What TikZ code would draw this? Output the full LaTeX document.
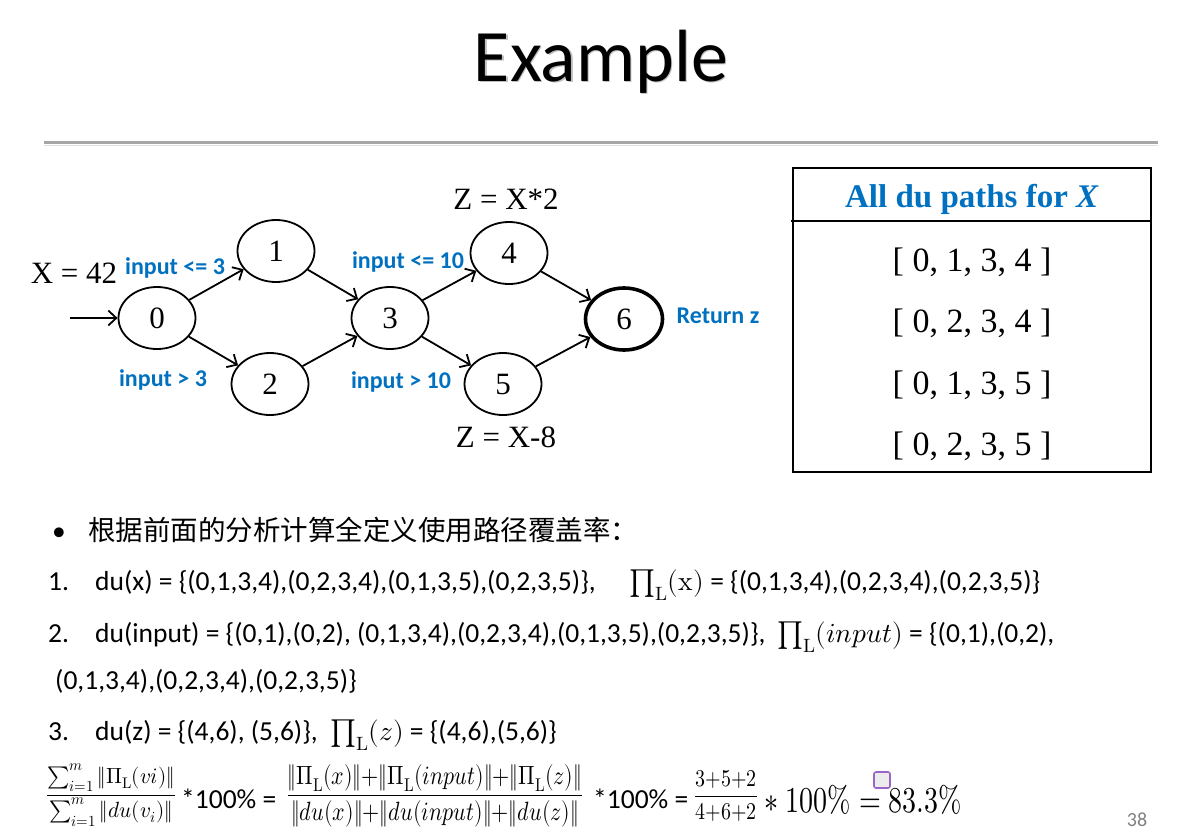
\documentclass[tikz,border=0pt]{standalone}
\usepackage{fontspec}
\usepackage{unicode-math}
\usepackage{graphicx}
\setmainfont{Carlito}
\newfontfamily\tnr{Liberation Serif}
\newfontfamily\cjk{Noto Sans CJK SC}
\usetikzlibrary{arrows.meta,shapes.geometric}
\definecolor{lblue}{HTML}{0070C0}
\definecolor{handle}{HTML}{9A64C8}
\newcommand\fsz[1]{\fontsize{#1}{#1}\selectfont}
\newcommand\PiL{\Pi_{\symup{L}}}
\newcommand\prodL{\prod\nolimits_{\symup{L}}}
% tall, narrow setting for the coverage formula
\newcommand\tallmath[3]{\scalebox{#1}[#2]{#3}}

\tikzset{
  state/.style={ellipse, draw, line width=1.8pt, minimum width=77pt,
    minimum height=62pt, inner sep=0pt, font=\tnr\fsz{31}},
  finalstate/.style={state, line width=3.6pt},
  flow/.style={line width=1.8pt,
    -{Straight Barb[length=8pt,width=15pt,line width=1.8pt]}},
  cond/.style={text=lblue, inner sep=0pt, font=\bfseries\fsz{24}},
  assign/.style={inner sep=0pt, font=\tnr\fsz{31}},
  pathrow/.style={inner sep=0pt, anchor=base, font=\tnr\fsz{34}},
  body/.style={inner sep=0pt, anchor=base west, font=\fsz{27.5}},
  formula/.style={inner sep=0pt, font=\fsz{22}},
}

\begin{document}
\begin{tikzpicture}[x=1pt,y=-1pt]
\useasboundingbox (0,0) rectangle (1202,833);
\begin{scope}
\clip (0,0) rectangle (1202,833);

% title with its soft shadow, and the rule under it
\node[anchor=base, inner sep=0pt, font=\fsz{74}, text=black, opacity=0.25]
  (titleshadow) at (602.5,82.5) {Example};
\node[anchor=base, inner sep=0pt, font=\fsz{74}] (title) at (601,81) {Example};
\draw[gray!25, line width=1.5pt] (44,145.5) -- (1158,145.5);
\draw[gray!70, line width=3pt] (44,142) -- (1158,142);

% control flow graph
\node[state] (n0) at (157,318) {0};
\node[state] (n1) at (276,251) {1};
\node[state] (n2) at (270,384) {2};
\node[state] (n3) at (390,318) {3};
\node[state] (n4) at (509,253) {4};
\node[state] (n5) at (503,384) {5};
\node[finalstate] (n6) at (624,319) {6};
\coordinate (entry) at (70,318);

\draw[flow] (entry) -- (n0);
\draw[flow] (n0) -- (n1);
\draw[flow] (n0) -- (n2);
\draw[flow] (n1) -- (n3);
\draw[flow] (n2) -- (n3);
\draw[flow] (n3) -- (n4);
\draw[flow] (n3) -- (n5);
\draw[flow] (n4) -- (n6);
\draw[flow] (n5) -- (n6);

\node[assign] (xdef) at (74,273) {X = 42};
\node[assign] (zmul) at (506,199) {Z = X*2};
\node[assign] (zsub) at (506,437) {Z = X-8};

\node[cond] (c01) at (175,268) {input <= 3};
\node[cond] (c02) at (163,380) {input > 3};
\node[cond] (c34) at (408,262) {input <= 10};
\node[cond] (c35) at (401,382) {input > 10};
\node[cond] (ret) at (718,316) {Return z};

% table of du paths
\draw[line width=1.8pt] (793,168) rectangle (1151,472);
\draw[line width=1.8pt] (791,221) -- (1151,221);
\node[pathrow, text=lblue, font=\tnr\bfseries\fsz{33}] (thead) at (972,207)
  {All du paths for \textit{X}};
\node[pathrow] (p1) at (972,271) {[ 0, 1, 3, 4 ]};
\node[pathrow] (p2) at (972,332) {[ 0, 2, 3, 4 ]};
\node[pathrow] (p3) at (972,394) {[ 0, 1, 3, 5 ]};
\node[pathrow] (p4) at (972,455) {[ 0, 2, 3, 5 ]};

% coverage computation
\node[body] (bullet) at (52,540) {•};
\node[body, font=\cjk\fsz{27.5}] (intro) at (88,540) {根据前面的分析计算全定义使用路径覆盖率：};

\node[body] (num1) at (48,590) {1.};
\node[body] (du1) at (95,590) {du(x) = \{(0,1,3,4),(0,2,3,4),(0,1,3,5),(0,2,3,5)\},};
\node[body] (pi1) at (629,590) {$\prodL(\symup{x})$ = \{(0,1,3,4),(0,2,3,4),(0,2,3,5)\}};

\node[body] (num2) at (48,642) {2.};
\node[body] (du2) at (95,642) {du(input) = \{(0,1),(0,2), (0,1,3,4),(0,2,3,4),(0,1,3,5),(0,2,3,5)\},};
\node[body] (pi2) at (777,642) {$\prodL(input)$ = \{(0,1),(0,2),};
\node[body] (pi2b) at (55,689) {(0,1,3,4),(0,2,3,4),(0,2,3,5)\}};

\node[body] (num3) at (48,740) {3.};
\node[body] (du3) at (95,740) {du(z) = \{(4,6), (5,6)\},};
\node[body] (pi3) at (330,740) {$\prodL(z)$ = \{(4,6),(5,6)\}};

\node[formula, font=\fsz{20}] (f1) at (111,795)
  {\tallmath{1.06}{1.1}{$\dfrac{\sum_{i=1}^{m}\|\PiL(vi)\|}{\sum_{i=1}^{m}\|du(v_i)\|}$}};
\node[body] (times1) at (181,808) {*100\% =};
\node[formula] (f2) at (435,796)
  {\tallmath{1}{1.2}{$\dfrac{\|\PiL(x)\|{+}\|\PiL(input)\|{+}\|\PiL(z)\|}{\|du(x)\|{+}\|du(input)\|{+}\|du(z)\|}$}};
\node[body] (times2) at (593,808) {*100\% =};
\node[formula, font=\fsz{20}] (f3) at (726,796)
  {\tallmath{1}{1.2}{$\dfrac{3{+}5{+}2}{4{+}6{+}2}$}};
\node[body, font=\fsz{28}] (result) at (764,812)
  {\tallmath{1}{1.3}{$\ast\;100\% = 83.3\%$}};

\node[draw=handle, fill=gray!15, line width=1.6pt, rounded corners=2pt,
  minimum size=16pt, inner sep=0pt] (handlebox) at (882,780) {};

\node[anchor=base, inner sep=0pt, text=gray, font=\fsz{20}] (pageno) at (1137,826) {38};
\end{scope}
\end{tikzpicture}
\end{document}
